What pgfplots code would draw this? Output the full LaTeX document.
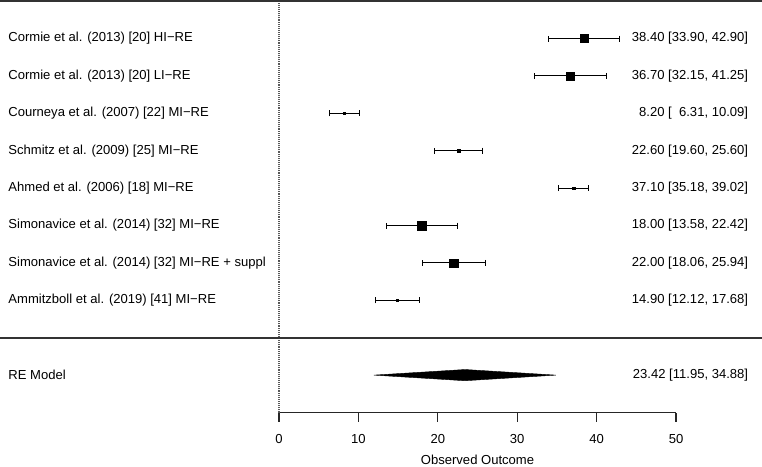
\documentclass[border=0pt]{standalone}
\usepackage{pgfplots}
\pgfplotsset{compat=1.18}
\usepackage{pgfplotstable}
\usepackage{fontspec}
\setmainfont{Liberation Sans}

\pgfplotstableread{
y est lo hi ms
10 38.40 33.90 42.90 4.1
9  36.70 32.15 41.25 4.0
8  8.20  6.31  10.09 1.3
7  22.60 19.60 25.60 1.4
6  37.10 35.18 39.02 1.3
5  18.00 13.58 22.42 4.4
4  22.00 18.06 25.94 4.2
3  14.90 12.12 17.68 1.3
}\studies

\begin{document}
\fontsize{13.1}{15}\selectfont
\begin{tikzpicture}
\begin{axis}[
  x=7.94bp, y=37.4bp,
  xmin=0, xmax=50, ymin=0, ymax=11,
  clip=false,
  axis x line*=bottom,
  axis y line=none,
  axis line style={black!85, line width=1.2bp},
  xtick={0,10,20,30,40,50},
  tick align=outside,
  major tick length=9bp,
  tick style={black!85, line width=1.2bp},
  /pgf/number format/assume math mode=true,
  ticklabel style={font=\fontsize{13.1}{15}\selectfont},
  xticklabel style={yshift=-8bp},
  xlabel={Observed Outcome},
  xlabel style={font=\fontsize{13.1}{15}\selectfont, yshift=-3bp},
]
% reference line at 0
\addplot[black!65, densely dotted, line width=1.1bp] coordinates {(0,0) (0,11)};
% top and separator lines
\addplot[black!80, line width=1.6bp] coordinates {(-35.2,11) (61,11)};
\addplot[black!80, line width=1.6bp] coordinates {(-35.2,2) (61,2)};

% studies: CIs and squares
\addplot[black, only marks, mark=square*, mark options={black, fill=black},
  scatter, scatter/use mapped color={draw=black, fill=black},
  visualization depends on={\thisrow{ms} \as \ms},
  scatter/@pre marker code/.append style={/tikz/mark size=\ms bp},
  error bars/.cd, x dir=both, x explicit,
  error bar style={black, line width=0.9bp},
  error mark options={black, mark size=3bp, line width=0.9bp, rotate=90}]
  table[x=est, y=y, x error minus expr=\thisrow{est}-\thisrow{lo}, x error plus expr=\thisrow{hi}-\thisrow{est}] {\studies};

% RE model diamond
\addplot[black, fill=black] coordinates {(11.95,1) (23.42,1.15) (34.88,1) (23.42,0.85)} -- cycle;

% labels
\begin{scope}[every node/.style={inner sep=0pt, font=\fontsize{13.1}{15}\selectfont}]
\node[anchor=west] at (axis cs:-34.1,10) {Cormie et al. (2013) [20] HI\textminus RE};
\node[anchor=west] at (axis cs:-34.1,9) {Cormie et al. (2013) [20] LI\textminus RE};
\node[anchor=west] at (axis cs:-34.1,8) {Courneya et al. (2007) [22] MI\textminus RE};
\node[anchor=west] at (axis cs:-34.1,7) {Schmitz et al. (2009) [25] MI\textminus RE};
\node[anchor=west] at (axis cs:-34.1,6) {Ahmed et al. (2006) [18] MI\textminus RE};
\node[anchor=west] at (axis cs:-34.1,5) {Simonavice et al. (2014) [32] MI\textminus RE};
\node[anchor=west] at (axis cs:-34.1,4) {Simonavice et al. (2014) [32] MI\textminus RE + suppl};
\node[anchor=west] at (axis cs:-34.1,3) {Ammitzboll et al. (2019) [41] MI\textminus RE};
\node[anchor=west] at (axis cs:-34.1,1) {RE Model};
\node[anchor=east] at (axis cs:59.1,10) {38.40 [33.90, 42.90]};
\node[anchor=east] at (axis cs:59.1,9) {36.70 [32.15, 41.25]};
\node[anchor=east] at (axis cs:59.1,8) {8.20 [\phantom{0}6.31, 10.09]};
\node[anchor=east] at (axis cs:59.1,7) {22.60 [19.60, 25.60]};
\node[anchor=east] at (axis cs:59.1,6) {37.10 [35.18, 39.02]};
\node[anchor=east] at (axis cs:59.1,5) {18.00 [13.58, 22.42]};
\node[anchor=east] at (axis cs:59.1,4) {22.00 [18.06, 25.94]};
\node[anchor=east] at (axis cs:59.1,3) {14.90 [12.12, 17.68]};
\node[anchor=east] at (axis cs:59.1,1) {23.42 [11.95, 34.88]};
\end{scope}
\coordinate (bl) at (axis cs:-35.14,-1.44);
\coordinate (tr) at (axis cs:60.83,11.03);
\end{axis}
\pgfresetboundingbox
\path[use as bounding box] (bl) rectangle (tr);
\end{tikzpicture}
\end{document}
